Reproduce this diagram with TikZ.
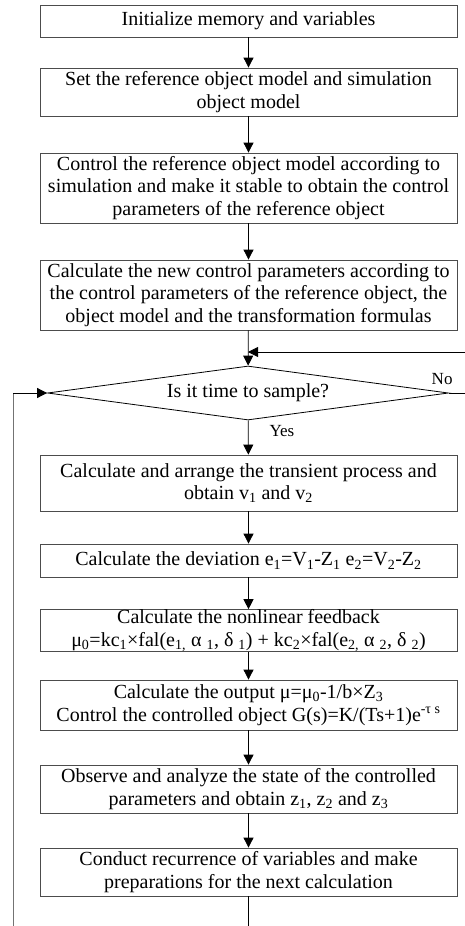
\documentclass[tikz,border=0pt]{standalone}
\usepackage{fontspec}
\setmainfont{Liberation Serif}
\usetikzlibrary{shapes.geometric,arrows.meta}
\tikzset{
    block/.style={draw=black!70, line width=0.8pt, minimum width=417pt, inner xsep=2pt, inner ysep=0pt, align=center,
      font=\fontsize{20}{22.5}\selectfont},
    decision/.style={draw=black, line width=0.8pt, shape=diamond, aspect=7.4, minimum width=401pt, minimum height=54pt,
      inner sep=0pt, font=\fontsize{20}{22.5}\selectfont},
    flow/.style={line width=0.8pt, -{Triangle[length=10pt,width=10pt]}},
    tag/.style={font=\fontsize{17}{19}\selectfont, inner sep=0pt},
  }
\begin{document}
\begin{tikzpicture}[x=1pt,y=-1pt]
				  %bounding box of the page
				  \useasboundingbox (0,0) rectangle (465,926);
				  \node[block, minimum height=32pt] (init) at (248.5,21) {Initialize memory and variables};
				  \node[block, minimum height=48pt] (setm) at (248.5,92) {Set the reference object model and simulation\\object model};
				  \node[block, minimum height=70pt] (ctrl) at (248.5,188) {Control the reference object model according to\\simulation and make it stable to obtain the control\\parameters of the reference object};
				  \node[block, minimum height=70pt] (newp) at (248.5,295) {Calculate the new control parameters according to\\the control parameters of the reference object, the\\object model and the transformation formulas};
				  \node[decision] (ask) at (248,393) {Is it time to sample?};
				  
				  \node[block, minimum height=56pt] (trans) at (248.5,483) {Calculate and arrange the transient process and\\obtain v\textsubscript{1} and v\textsubscript{2}};
				  \node[block, minimum height=33pt] (dev) at (248.5,560.5) {Calculate the deviation e\textsubscript{1}=V\textsubscript{1}-Z\textsubscript{1} e\textsubscript{2}=V\textsubscript{2}-Z\textsubscript{2}};
				  \node[block, minimum height=41pt] (nlf) at (248.5,630.5) {Calculate the nonlinear feedback\\μ\textsubscript{0}=kc\textsubscript{1}×fal(e\textsubscript{1,} α \textsubscript{1}, δ \textsubscript{1}) + kc\textsubscript{2}×fal(e\textsubscript{2,} α \textsubscript{2}, δ \textsubscript{2})};
				  \node[block, minimum height=50pt] (outp) at (248.5,705) {Calculate the output μ=μ\textsubscript{0}-1/b×Z\textsubscript{3}\\Control the controlled object G(s)=K/(Ts+1)e\textsuperscript{-τ s}};
				  \node[block, minimum height=48pt] (obs) at (248.5,789) {Observe and analyze the state of the controlled\\parameters and obtain z\textsubscript{1}, z\textsubscript{2} and z\textsubscript{3}};
				  \node[block, minimum height=48pt] (rec) at (248.5,872) {Conduct recurrence of variables and make\\preparations for the next calculation};
				  
				  \coordinate(tail) at (248.5,926);
				  \coordinate(loopbot) at (13,926);
				  \coordinate(loopup) at (13,393);
				  \coordinate(noend) at (465,393);
				  \coordinate(back) at (465,352);
				  
				  \draw[flow] (init) -- (setm);
				  \draw[flow] (setm) -- (ctrl);
				  \draw[flow] (ctrl) -- (newp);
				  \draw[flow] (newp) -- (ask);
				  \draw[flow] (ask) -- (trans) node[tag, pos=0.3, right=21pt] {Yes};
				  \draw[flow] (trans) -- (dev);
				  \draw[flow] (dev) -- (nlf);
				  \draw[flow] (nlf) -- (outp);
				  \draw[flow] (outp) -- (obs);
				  \draw[flow] (obs) -- (rec);
				  \draw[line width=0.8pt] (rec) -- (tail);
				  
				  %loop back on the left, gray upright part
				  \draw[line width=1pt, black!55] (loopbot) -- (loopup);
				  \draw[flow] (loopup) -- (ask.west);
				  \draw[line width=0.8pt] (ask.east) -- (noend) node[tag, pos=0, anchor=south east, xshift=4pt, yshift=8pt] {No};
				  \draw[flow] (back) -- (back -| ask.north);
				  \end{tikzpicture}
\end{document}
